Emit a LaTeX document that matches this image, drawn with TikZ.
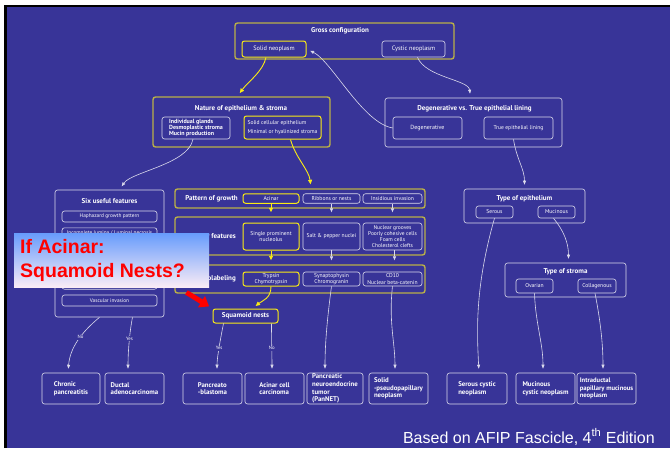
\documentclass[tikz,border=0pt]{standalone}
\usepackage{fontspec}
\setmainfont{PT Sans}
\newfontfamily\arialfont{Liberation Sans}
\usetikzlibrary{arrows.meta}

\definecolor{slidebg}{RGB}{56,52,152}
\definecolor{olivebox}{RGB}{186,176,72}
\definecolor{hiyellow}{RGB}{250,236,20}
\definecolor{calltop}{RGB}{104,156,252}
\definecolor{callbot}{RGB}{250,236,246}
\colorlet{wline}{white!82!slidebg}

\newcommand\fsz[2]{\fontsize{#1}{#2}\selectfont}

\tikzset{
  box/.style={rounded corners=2.5pt, inner sep=0pt, align=center, text=white,
              font=\fsz{5.6}{6.6}},
  wbox/.style={box, draw=wline, line width=0.6pt},
  ybox/.style={box, draw=hiyellow, line width=1pt},
  obox/.style={box, draw=olivebox, line width=1.4pt},
  ttl/.style={text=white, inner sep=0pt, font=\bfseries\fsz{7}{8}},
  endbox/.style={wbox, minimum height=31pt, align=left, font=\bfseries\fsz{6.8}{7.7}},
  wcon/.style={draw=wline, line width=0.6pt, -{Triangle[length=4pt,width=3pt]}, shorten >=4pt},
  ycon/.style={draw=hiyellow, line width=0.9pt, -{Triangle[length=4.5pt,width=4pt]}, shorten >=4pt},
  elbl/.style={fill=slidebg, text=white, inner sep=0.8pt, font=\fsz{4.8}{5}},
  callout/.style={top color=calltop, bottom color=callbot, inner sep=0pt},
}

\begin{document}
\begin{tikzpicture}[x=1pt,y=-1pt]
% slide frame
\fill[white] (0,0) rectangle (670,448);
\fill[black] (4,5) rectangle (670,448);
\fill[slidebg] (7,7) rectangle (670,448);
\useasboundingbox (0,0) rectangle (670,448);

% gross configuration
\node[obox, minimum width=219pt, minimum height=36pt] (gross) at (344.5,41) {};
\node[ttl] (grossT) at (340,31) {Gross configuration};
\node[ybox, minimum width=64pt, minimum height=16pt, font=\fsz{6.3}{7}] (solid) at (274,49) {Solid neoplasm};
\node[wbox, minimum width=63pt, minimum height=16pt, font=\fsz{6.3}{7}] (cystic) at (413.5,49) {Cystic neoplasm};

% nature of epithelium & stroma
\node[obox, minimum width=177pt, minimum height=50pt] (nature) at (241.5,122) {};
\node[ttl] (natureT) at (241,109) {Nature of epithelium \& stroma};
\node[wbox, minimum width=68pt, minimum height=22pt, align=left, font=\bfseries\fsz{6}{5.6}] (glands) at (196,128) {Individual glands\\Desmoplastic stroma\\Mucin production};
\node[ybox, minimum width=77pt, minimum height=23pt, align=left, font=\fsz{5.6}{8.5}] (solidcell) at (282.5,127.5) {Solid cellular epithelium\\Minimal or hyalinized stroma};

% degenerative vs true lining
\node[wbox, minimum width=177pt, minimum height=49pt] (dvt) at (473.5,122.5) {};
\node[ttl] (dvtT) at (474.5,109) {Degenerative vs. True epithelial lining};
\node[wbox, minimum width=69pt, minimum height=22pt, font=\fsz{6}{7}] (degen) at (427.5,128) {Degenerative};
\node[wbox, minimum width=69pt, minimum height=22pt] (truelin) at (518.5,128) {True epithelial lining};

% six useful features
\node[wbox, minimum width=109pt, minimum height=127pt] (six) at (109.5,253.5) {};
\node[ttl] (sixT) at (109.5,201) {Six useful features};
\node[wbox, minimum width=95pt, minimum height=11pt, font=\fsz{5.3}{6}] (f1) at (109.5,216.5) {Haphazard growth pattern};
\node[wbox, minimum width=95pt, minimum height=11pt, font=\fsz{5.3}{6}] (f2) at (109.5,233.3) {Incomplete lumina / Luminal necrosis};
\node[wbox, minimum width=95pt, minimum height=11pt] (f3) at (109.5,250.1) {};
\node[wbox, minimum width=95pt, minimum height=11pt] (f4) at (109.5,266.9) {};
\node[wbox, minimum width=95pt, minimum height=11pt] (f5) at (109.5,283.7) {};
\node[wbox, minimum width=95pt, minimum height=11pt, font=\fsz{5.3}{6}] (f6) at (109.5,300.5) {Vascular invasion};

% pattern of growth
\node[obox, minimum width=250pt, minimum height=19pt] (pattern) at (300,198.5) {};
\node[ttl, anchor=east] (patternT) at (238,198.5) {Pattern of growth};
\node[ybox, minimum width=56pt, minimum height=9.5pt] (acinar) at (271,198.5) {Acinar};
\node[wbox, minimum width=57pt, minimum height=9.5pt] (ribbons) at (331.5,198.5) {Ribbons or nests};
\node[wbox, minimum width=59pt, minimum height=9.5pt] (insid) at (392.5,198.5) {Insidious invasion};

% nuclear features
\node[obox, minimum width=250pt, minimum height=38pt] (feat) at (300,236) {};
\node[ttl, anchor=east] (featT) at (236,236.5) {Nuclear features};
\node[ybox, minimum width=56pt, minimum height=27pt] (nucleolus) at (271,236.5) {Single prominent\\nucleolus};
\node[wbox, minimum width=57pt, minimum height=27pt] (saltpep) at (331.5,236.5) {Salt \& pepper nuclei};
\node[wbox, minimum width=59pt, minimum height=27pt, font=\fsz{5.5}{5.8}] (grooves) at (392.5,236.5) {Nuclear grooves\\Poorly cohesive cells\\Foam cells\\Cholesterol clefts};

% immunolabeling
\node[obox, minimum width=250pt, minimum height=28pt] (immuno) at (300,279) {};
\node[ttl, anchor=east] (immunoT) at (236,279) {Immunolabeling};
\node[ybox, minimum width=56pt, minimum height=14pt, font=\fsz{5.6}{6.5}] (trypsin) at (271,279) {Trypsin\\Chymotrypsin};
\node[wbox, minimum width=57pt, minimum height=14pt, font=\fsz{5.6}{6.5}] (synapt) at (331.5,279) {Synaptophysin\\Chromogranin};
\node[wbox, minimum width=59pt, minimum height=14pt, font=\fsz{5.6}{6.5}] (cd10) at (392.5,279) {CD10\\Nuclear beta-catenin};

% squamoid nests
\node[ybox, minimum width=65pt, minimum height=14pt, font=\bfseries\fsz{7}{8}] (squam) at (245.5,316) {Squamoid nests};

% type of epithelium / stroma
\node[wbox, minimum width=121pt, minimum height=34pt] (tepi) at (524.5,206) {};
\node[ttl] (tepiT) at (524.5,198.5) {Type of epithelium};
\node[wbox, minimum width=37pt, minimum height=12pt] (serous) at (494.5,212) {Serous};
\node[wbox, minimum width=37pt, minimum height=12pt] (mucinous) at (556.5,212) {Mucinous};
\node[wbox, minimum width=121pt, minimum height=34pt] (tstr) at (565.5,280) {};
\node[ttl] (tstrT) at (565.5,271.5) {Type of stroma};
\node[wbox, minimum width=37pt, minimum height=14pt] (ovarian) at (534.5,286) {Ovarian};
\node[wbox, minimum width=38pt, minimum height=14pt] (collag) at (597,286) {Collagenous};

% diagnoses
\node[endbox, minimum width=58pt] (chronic) at (71,388.5) {Chronic\\pancreatitis};
\node[endbox, minimum width=59pt] (ductal) at (134.5,388.5) {Ductal\\adenocarcinoma};
\node[endbox, minimum width=59pt] (pblast) at (212.5,388.5) {Pancreato\\-blastoma};
\node[endbox, minimum width=59pt] (acc) at (274.5,388.5) {Acinar cell\\carcinoma};
\node[endbox, minimum width=56pt] (pannet) at (335,388.5) {Pancreatic\\neuroendocrine\\tumor\\(PanNET)};
\node[endbox, minimum width=59pt] (spn) at (398.5,388.5) {Solid\\-pseudopapillary\\neoplasm};
\node[endbox, minimum width=60pt] (scn) at (477,388.5) {Serous cystic\\neoplasm};
\node[endbox, minimum width=59pt] (mcn) at (545.5,388.5) {Mucinous\\cystic neoplasm};
\node[endbox, minimum width=59pt, font=\bfseries\fsz{6.6}{7.6}] (ipmn) at (606.5,388.5) {Intraductal\\papillary mucinous\\neoplasm};

% connectors: upper levels
\draw[ycon] ([xshift=-8]solid.south) .. controls +(-3,14) and +(10,-14) .. ([xshift=-4]nature.north);
\draw[wcon] (degen.west) .. controls +(-30,-5) and +(25,12) .. (solid.east);
\draw[wcon] ([xshift=4]cystic.south) .. controls +(8,20) and +(-2,-18) .. ([xshift=-3]dvt.north);
\draw[wcon] ([xshift=-3]glands.south) .. controls +(-5,25) and +(12,-18) .. ([xshift=10]six.north);
\draw[ycon] ([xshift=8]solidcell.south) .. controls +(5,18) and +(-2,-18) .. ([xshift=11]pattern.north);
\draw[wcon] ([xshift=-5]truelin.south) .. controls +(3,20) and +(0,-20) .. (tepi.north);

% connectors: solid pathway
\draw[ycon] (acinar.south) -- (acinar.south |- feat.north);
\draw[wcon] (ribbons.south) -- (ribbons.south |- feat.north);
\draw[wcon] (insid.south) -- (insid.south |- feat.north);
\draw[ycon] (nucleolus.south) -- (nucleolus.south |- immuno.north);
\draw[wcon] (saltpep.south) -- (saltpep.south |- immuno.north);
\draw[wcon] ([xshift=2]grooves.south) -- ([xshift=2]grooves.south |- immuno.north);
\draw[ycon] (trypsin.south) .. controls +(0,12) and +(10,-8) .. ([xshift=7]squam.north);

% connectors: to diagnoses
\draw[wcon] ([xshift=-10]six.south) .. controls +(-18,15) and +(2,-25) .. ([xshift=-3]chronic.north) node[elbl, pos=0.42] {No};
\draw[wcon] ([xshift=23]six.south) .. controls +(-3,15) and +(0,-20) .. ([xshift=-6.5]ductal.north) node[elbl, pos=0.42] {Yes};
\draw[wcon] ([xshift=-22]squam.south) .. controls +(-3,15) and +(0,-15) .. ([xshift=4.5]pblast.north) node[elbl, pos=0.5] {Yes};
\draw[wcon] ([xshift=26]squam.south) .. controls +(0,15) and +(0,-15) .. ([xshift=-2.5]acc.north) node[elbl, pos=0.5] {No};
\draw[wcon] (synapt.south) .. controls +(-4,30) and +(0,-30) .. ([xshift=-10]pannet.north);
\draw[wcon] (cd10.south) .. controls +(-4,35) and +(0,-30) .. ([xshift=-3.5]spn.north);
\draw[wcon] (serous.south) .. controls +(-20,70) and +(-2,-40) .. ([xshift=2]scn.north);
\draw[wcon] ([xshift=-3]mucinous.south) .. controls +(10,12) and +(0,-20) .. ([xshift=3]tstr.north);
\draw[wcon] (ovarian.south) .. controls +(1,30) and +(0,-30) .. ([xshift=-2.5]mcn.north);
\draw[wcon] ([xshift=-2]collag.south) .. controls +(5,25) and +(0,-30) .. ([xshift=-3.5]ipmn.north);

% question callout and pointer
\node[callout, anchor=north west, minimum width=195pt, minimum height=54pt] (ask) at (14,233) {};
\node[anchor=west, align=left, inner sep=0pt, text=red, font=\arialfont\bfseries\fsz{19.5}{24}] (askT) at ([xshift=6]ask.west) {If Acinar:\\Squamoid Nests?};
\draw[red, line width=5pt, -{Triangle[length=9pt,width=13pt]}, shorten >=4pt] ([shift={(-23,5)}]ask.south east) -- (squam.north west);

% source line
\node[anchor=base east, inner sep=0pt, text=white, font=\arialfont\fsz{16}{19}] (src) at (655,443) {Based on AFIP Fascicle, 4\textsuperscript{th} Edition};
\end{tikzpicture}
\end{document}
